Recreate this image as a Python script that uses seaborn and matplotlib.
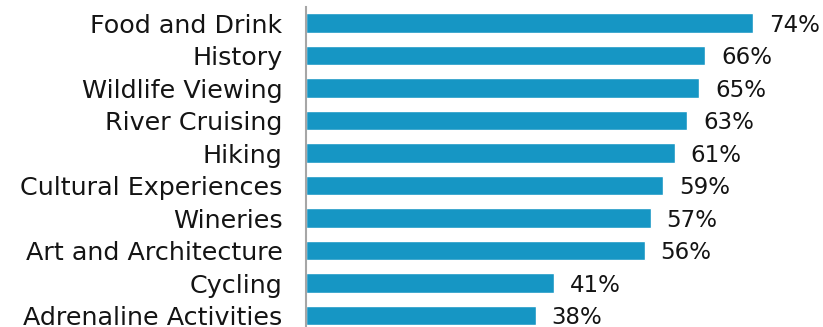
import matplotlib
matplotlib.use("Agg")
import matplotlib.pyplot as plt
import seaborn as sns
import pandas as pd

categories = ["Food and Drink", "History", "Wildlife Viewing", "River Cruising", "Hiking",
              "Cultural Experiences", "Wineries", "Art and Architecture", "Cycling",
              "Adrenaline Activities"]
values = [74, 66, 65, 63, 61, 59, 57, 56, 41, 38]
value_labels = [f"{v}%" for v in values]

sns.set_theme(style="white")
plt.rcParams["font.family"] = ["DejaVu Sans"]

df = pd.DataFrame({"category": categories, "value": values})

fig = plt.figure(figsize=(8.23, 3.27), dpi=100)
ax = fig.add_axes([306/823, 0, 514/823, 320/327])
sns.barplot(data=df, x="value", y="category", color="#1696c4", width=0.6,
            saturation=1, ax=ax, orient="h")
ax.set_xlim(0, 85)
ax.set_ylim(9.35, -0.5)
ax.set_xlabel("")
ax.set_ylabel("")
ax.set_xticks([])
for s in ["top", "right", "bottom"]:
    ax.spines[s].set_visible(False)
ax.spines["left"].set_color("#a6a6a6")
ax.spines["left"].set_linewidth(1.5)
ax.tick_params(axis="y", length=0, pad=17, labelsize=18.3, labelcolor="#141414")
for i, (v, lab) in enumerate(zip(values, value_labels)):
    ax.annotate(lab, (v, i), xytext=(16, -2), textcoords="offset pixels",
                ha="left", va="center", fontsize=16.5, color="#141414")

fig.savefig("out.png", dpi=100)
